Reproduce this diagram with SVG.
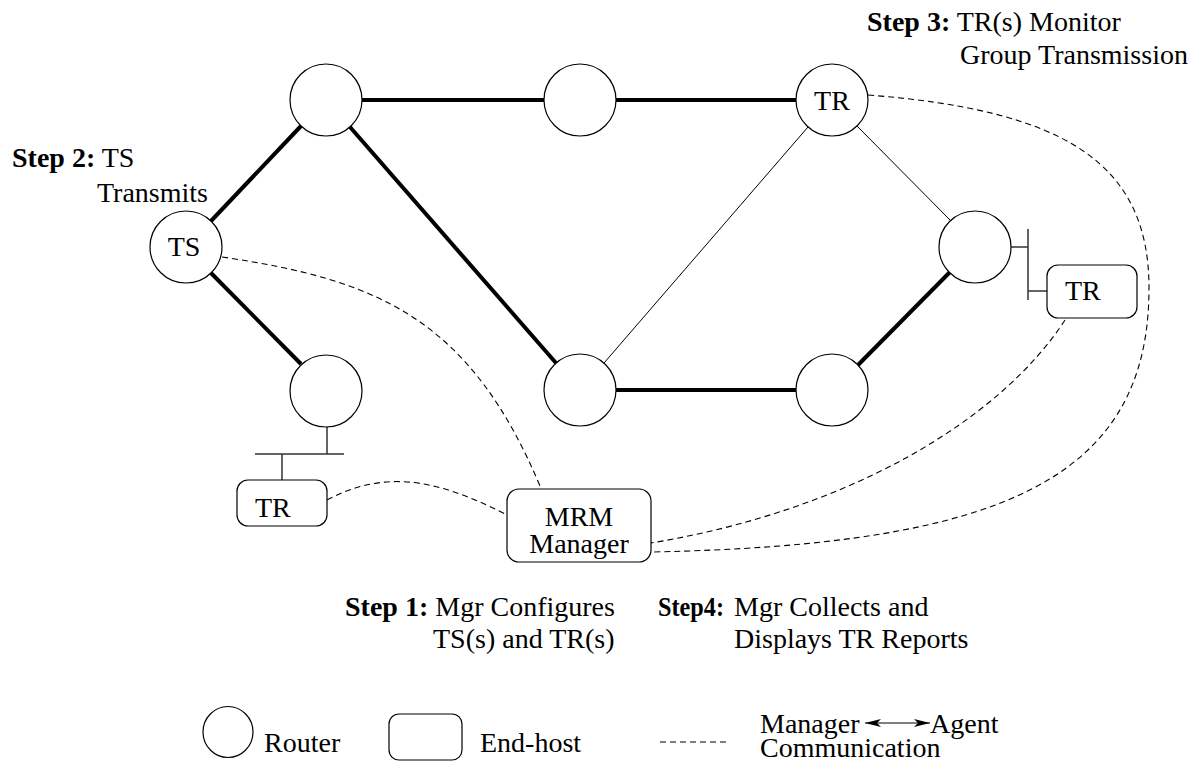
<svg xmlns="http://www.w3.org/2000/svg" width="1196" height="764" viewBox="0 0 1196 764">
<defs>
<style>
.router{fill:#fff;stroke:#000;stroke-width:1.2}
.host{fill:#fff;stroke:#000;stroke-width:1.2}
.thick{stroke:#000;stroke-width:4;fill:none}
.thin{stroke:#000;stroke-width:1;fill:none}
.bus{stroke:#333;stroke-width:1.5;fill:none}
.dash{stroke:#000;stroke-width:1.1;fill:none;stroke-dasharray:6 4}
text{font-size:28px;fill:#000}
.b{font-weight:bold}
</style>
<marker id="ah" viewBox="0 0 16 8" refX="16" refY="4" markerWidth="16" markerHeight="8" markerUnits="userSpaceOnUse" orient="auto-start-reverse">
<path d="M0,0 L16,4 L0,8 L4,4 z" fill="#000"/>
</marker>
</defs>
<rect width="1196" height="764" fill="#fff"/>
<g id="connectors">
<line class="thick" x1="362" y1="100" x2="544" y2="100"/>
<line class="thick" x1="616" y1="100" x2="796" y2="100"/>
<line class="thick" x1="301" y1="126" x2="211" y2="221"/>
<line class="thick" x1="350" y1="127" x2="556" y2="363"/>
<line class="thick" x1="211" y1="273" x2="301" y2="364"/>
<line class="thick" x1="616" y1="390" x2="796" y2="390"/>
<line class="thick" x1="858" y1="365" x2="950" y2="272"/>
<line class="thin" x1="808" y1="127" x2="604" y2="363"/>
<line class="thin" x1="857" y1="126" x2="951" y2="221"/>
<path class="bus" d="M327,427 V454 M255,454 H344 M282,454 V480"/>
<path class="bus" d="M1011,247 H1028 M1028,229 V300 M1028,291 H1047"/>
<path class="dash" d="M222,257 C380,280 470,320 540,486"/>
<path class="dash" d="M327,500 C380,472 430,475 507,515"/>
<path class="dash" d="M1065,320 C1000,420 850,510 651,543"/>
<path class="dash" d="M868,95 C1060,110 1150,160 1149,290 C1148,480 1000,545 651,552"/>
</g>
<g font-family="'Liberation Serif', 'Times New Roman', 'DejaVu Serif', serif">
<g id="r1"><circle class="router" cx="326" cy="100" r="36"/></g>
<g id="r2"><circle class="router" cx="580" cy="100" r="36"/></g>
<g id="r-tr"><circle class="router" cx="832" cy="100" r="36"/><text x="832" y="110" text-anchor="middle">TR</text></g>
<g id="r-ts"><circle class="router" cx="186" cy="247" r="36"/><text x="184" y="256" text-anchor="middle">TS</text></g>
<g id="r-bl"><circle class="router" cx="326" cy="391" r="36"/></g>
<g id="r-bm"><circle class="router" cx="580" cy="390" r="36"/></g>
<g id="r-br"><circle class="router" cx="832" cy="390" r="36"/></g>
<g id="r-right"><circle class="router" cx="975" cy="247" r="36"/></g>
<g id="host-tr-left"><rect class="host" x="237" y="480" width="90" height="46" rx="11"/><text x="255" y="517">TR</text></g>
<g id="host-tr-right"><rect class="host" x="1047" y="265" width="90" height="53" rx="11"/><text x="1065" y="300">TR</text></g>
<g id="host-mrm"><rect class="host" x="507" y="489" width="144" height="73" rx="12"/><text x="579" y="526" text-anchor="middle">MRM</text><text x="579" y="553" text-anchor="middle">Manager</text></g>
<g id="step2"><text x="12" y="167"><tspan class="b">Step 2:</tspan> TS</text><text x="97" y="202">Transmits</text></g>
<g id="step3"><text x="867" y="31"><tspan class="b">Step 3:</tspan> TR(s) Monitor</text><text x="960" y="64">Group Transmission</text></g>
<g id="step1"><text x="345" y="616"><tspan class="b">Step 1:</tspan> Mgr Configures</text><text x="433" y="648">TS(s) and TR(s)</text></g>
<g id="step4"><text x="658" y="616" class="b" textLength="66" lengthAdjust="spacingAndGlyphs">Step4:</text><text x="734" y="616">Mgr Collects and</text><text x="734" y="648">Displays TR Reports</text></g>
<g id="legend">
<ellipse class="router" cx="228" cy="732" rx="25" ry="25.5"/>
<text x="264" y="752">Router</text>
<rect class="host" x="389" y="714" width="73" height="46" rx="10"/>
<text x="480" y="752">End-host</text>
<line class="dash" x1="660" y1="742" x2="726" y2="742" stroke-dasharray="5 4"/>
<text x="760" y="733">Manager</text>
<line x1="865" y1="723" x2="930" y2="723" stroke="#000" stroke-width="1" marker-start="url(#ah)" marker-end="url(#ah)"/>
<text x="930" y="733">Agent</text>
<text x="760" y="757">Communication</text>
</g>
</g>
</svg>
